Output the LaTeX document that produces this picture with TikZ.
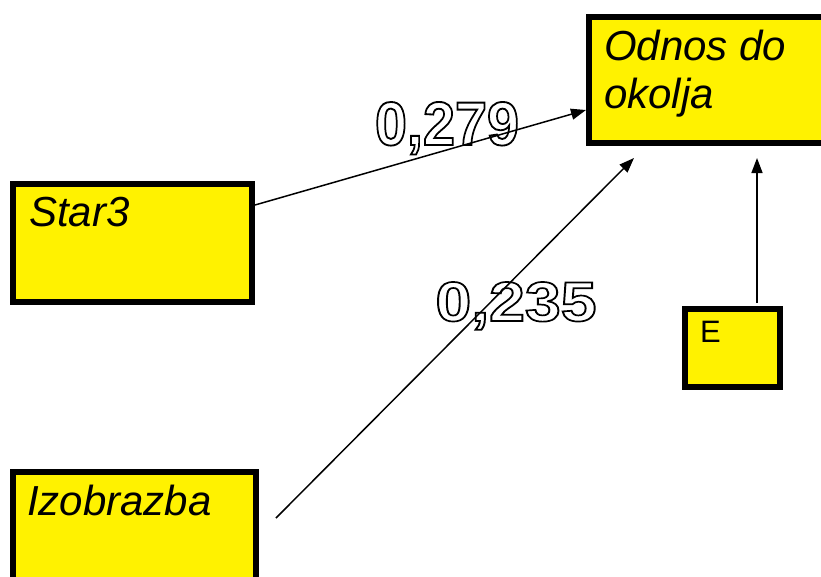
\documentclass[tikz,border=0pt]{standalone}
\usepackage{fontspec}
\setmainfont{Liberation Sans}
\usetikzlibrary{arrows.meta}
\tikzset{
  box/.style={draw=black, line width=6pt, fill=yellow, inner sep=0pt},
  lbl/.style={anchor=base west, inner sep=0pt, font=\fontsize{42}{48}\selectfont\itshape},
  conn/.style={line width=1.5pt, -{Triangle[length=15pt,width=11pt]}},
  coef/.style={anchor=base, inner sep=0pt}
}
\newcommand{\coeftext}[3]{\resizebox{#1}{#2}{\textcolor{white}{\special{pdf:literal direct 2 Tr 0.3 w 0 G}\bfseries #3\special{pdf:literal direct 0 Tr}}}}
\begin{document}
\begin{tikzpicture}[x=1pt,y=-1pt]
\useasboundingbox (0,0) rectangle (821,576);
\clip (0,0) rectangle (821,576);
% boxes
\node[box, minimum width=241pt, minimum height=126pt] (odnos) at (709.5,80) {};
\node[box, minimum width=239pt, minimum height=118pt] (star) at (132.5,243) {};
\node[box, minimum width=243pt, minimum height=118pt] (izo) at (134.5,531) {};
\node[box, minimum width=95pt, minimum height=78pt] (e) at (732.5,348) {};
% texts
\node[lbl] (t1) at (604,60) {Odnos do};
\node[lbl] (t2) at (604,108) {okolja};
\node[lbl] (t3) at (29,226) {Star3};
\node[lbl] (t4) at (27,515) {Izobrazba};
\node[anchor=base west, inner sep=0pt, font=\fontsize{31}{36}\selectfont] (t5) at (700,342) {E};
% coefficients (under the connectors)
\node[coef] (k1) at (447,145) {\coeftext{144pt}{43pt}{0,279}};
\node[coef] (k2) at (516,321) {\coeftext{161pt}{39pt}{0,235}};
% connectors
\coordinate (c1) at (634,158);
\coordinate (c2) at (757,158);
\coordinate (c3) at (276,518);
\coordinate (c4) at (757,303);
\draw[conn] (star.east |- 0,205) -- (odnos.west |- 0,110);
\draw[conn] (c3) -- (c1);
\draw[conn] (c4) -- (c2);
\end{tikzpicture}
\end{document}
